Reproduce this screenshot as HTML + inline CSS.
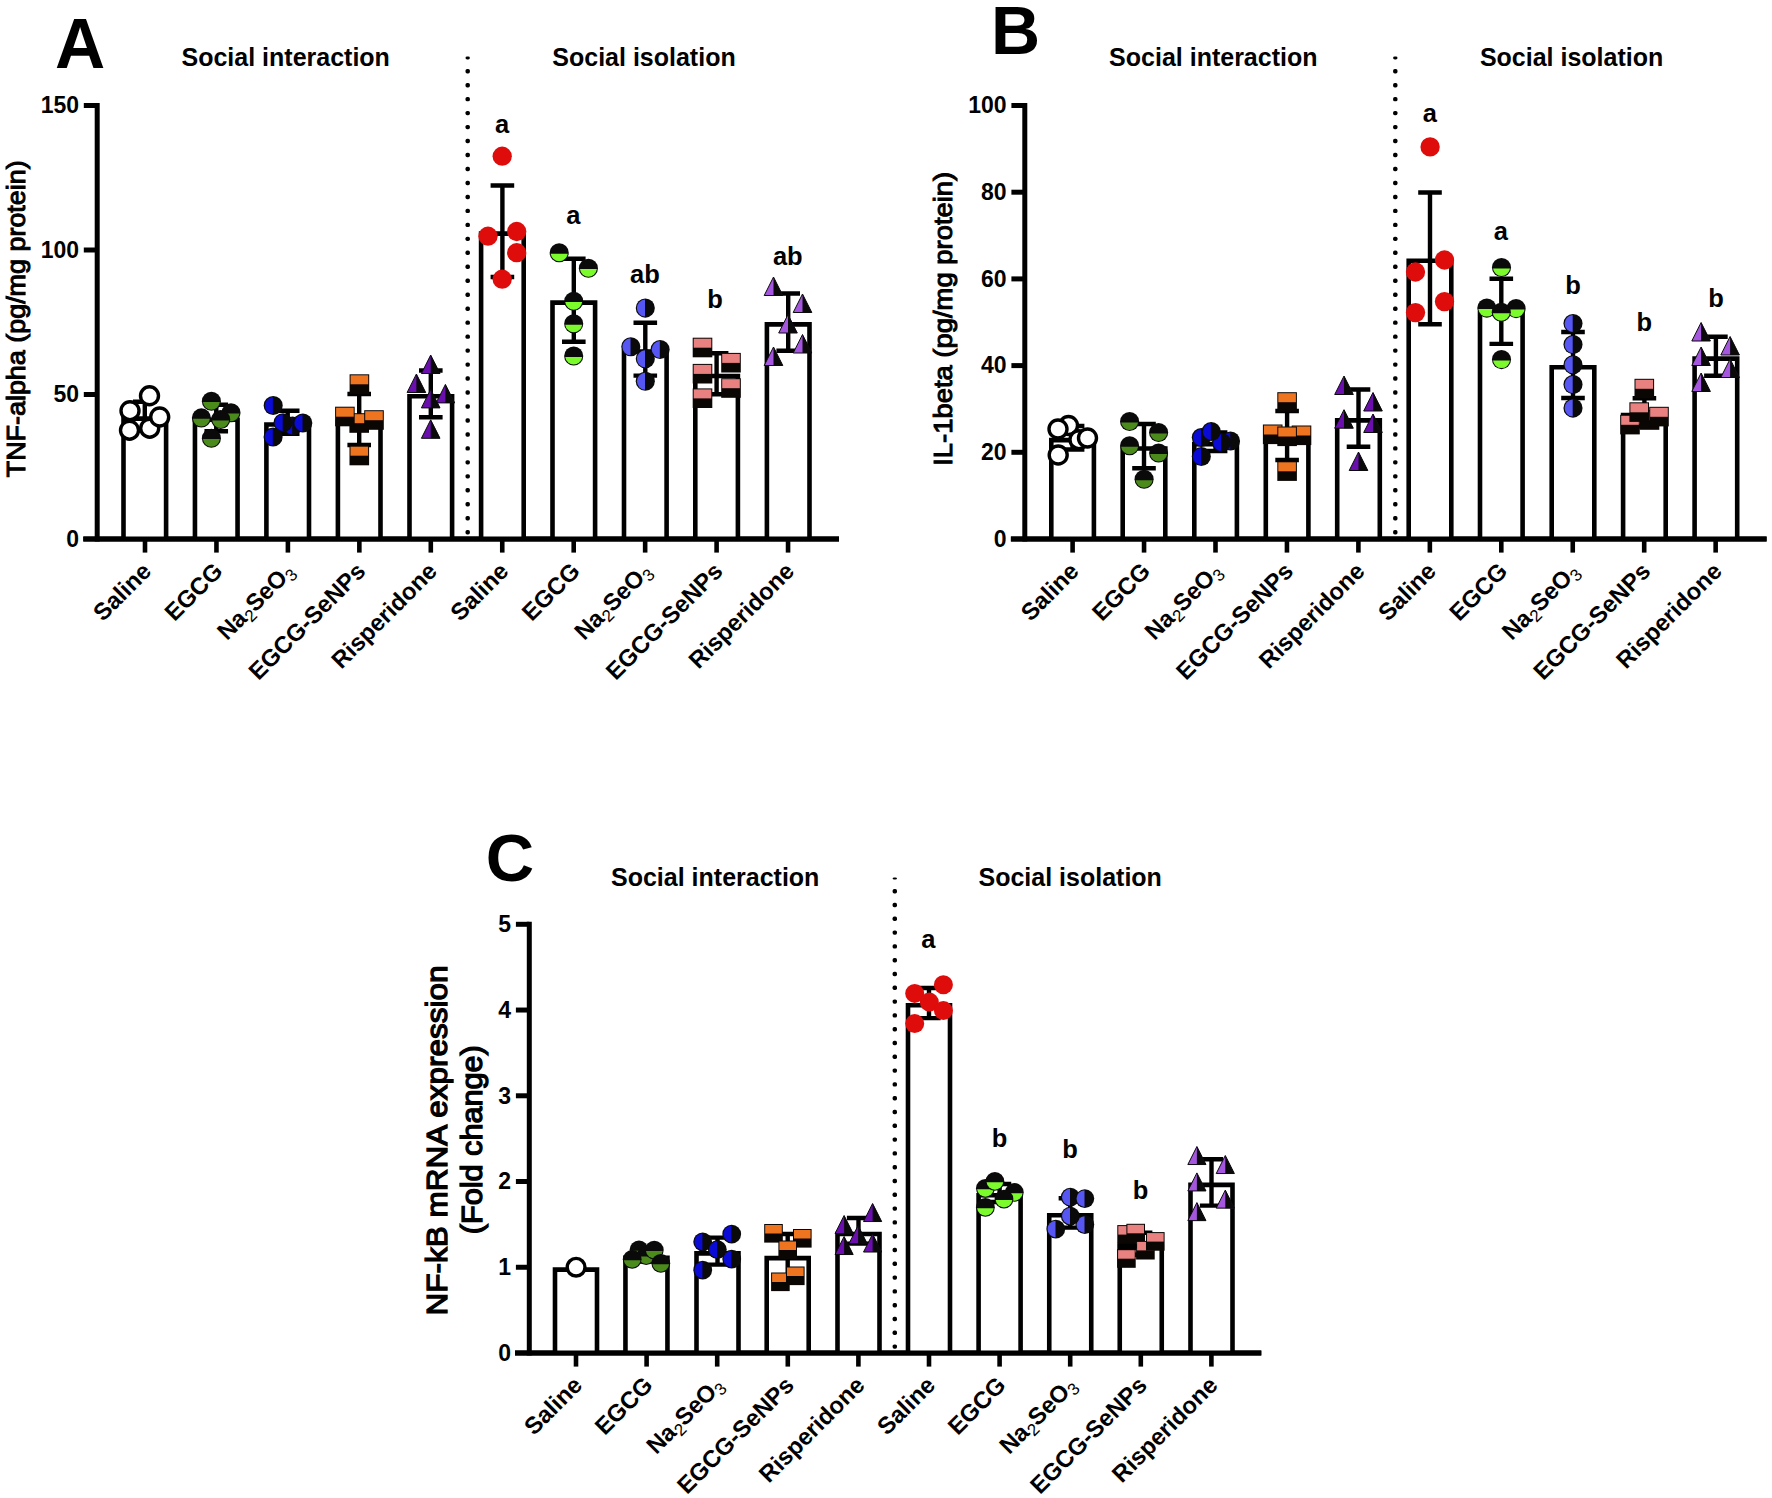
<!DOCTYPE html>
<html><head><meta charset="utf-8"><title>Figure</title>
<style>html,body{margin:0;padding:0;background:#fff}svg{display:block}</style></head><body>
<svg width="1772" height="1498" viewBox="0 0 1772 1498" font-family='"Liberation Sans", Arial, Helvetica, sans-serif' fill="#000">
<rect width="1772" height="1498" fill="#fff"/>
<g>
<path d="M83.3 539H839" stroke="#000" stroke-width="4.8" fill="none"/>
<path d="M97.2 103V541.4" stroke="#000" stroke-width="5" fill="none"/>
<text x="79" y="546.8" font-size="23" font-weight="bold" text-anchor="end" >0</text>
<path d="M83.8 394.5H97.2" stroke="#000" stroke-width="5" fill="none"/>
<text x="79" y="402.3" font-size="23" font-weight="bold" text-anchor="end" >50</text>
<path d="M83.8 250H97.2" stroke="#000" stroke-width="5" fill="none"/>
<text x="79" y="257.8" font-size="23" font-weight="bold" text-anchor="end" >100</text>
<path d="M83.8 105.5H97.2" stroke="#000" stroke-width="5" fill="none"/>
<text x="79" y="113.3" font-size="23" font-weight="bold" text-anchor="end" >150</text>
<path d="M145 539V552.6" stroke="#000" stroke-width="4.6" fill="none"/>
<text transform="translate(152.6 572.7) rotate(-45)" font-size="23.8" font-weight="bold" text-anchor="end">Saline</text>
<path d="M216.45 539V552.6" stroke="#000" stroke-width="4.6" fill="none"/>
<text transform="translate(224.05 572.7) rotate(-45)" font-size="23.8" font-weight="bold" text-anchor="end">EGCG</text>
<path d="M287.9 539V552.6" stroke="#000" stroke-width="4.6" fill="none"/>
<text transform="translate(295.5 572.7) rotate(-45)" font-size="23.8" font-weight="bold" text-anchor="end">Na<tspan font-size="17" font-weight="normal" dy="4.5">2</tspan><tspan dy="-4.5">SeO</tspan><tspan font-size="17" font-weight="normal" dy="4.5">3</tspan></text>
<path d="M359.35 539V552.6" stroke="#000" stroke-width="4.6" fill="none"/>
<text transform="translate(366.95 572.7) rotate(-45)" font-size="23.8" font-weight="bold" text-anchor="end">EGCG-SeNPs</text>
<path d="M430.8 539V552.6" stroke="#000" stroke-width="4.6" fill="none"/>
<text transform="translate(438.4 572.7) rotate(-45)" font-size="23.8" font-weight="bold" text-anchor="end">Risperidone</text>
<path d="M502.25 539V552.6" stroke="#000" stroke-width="4.6" fill="none"/>
<text transform="translate(509.85 572.7) rotate(-45)" font-size="23.8" font-weight="bold" text-anchor="end">Saline</text>
<path d="M573.7 539V552.6" stroke="#000" stroke-width="4.6" fill="none"/>
<text transform="translate(581.3 572.7) rotate(-45)" font-size="23.8" font-weight="bold" text-anchor="end">EGCG</text>
<path d="M645.15 539V552.6" stroke="#000" stroke-width="4.6" fill="none"/>
<text transform="translate(652.75 572.7) rotate(-45)" font-size="23.8" font-weight="bold" text-anchor="end">Na<tspan font-size="17" font-weight="normal" dy="4.5">2</tspan><tspan dy="-4.5">SeO</tspan><tspan font-size="17" font-weight="normal" dy="4.5">3</tspan></text>
<path d="M716.6 539V552.6" stroke="#000" stroke-width="4.6" fill="none"/>
<text transform="translate(724.2 572.7) rotate(-45)" font-size="23.8" font-weight="bold" text-anchor="end">EGCG-SeNPs</text>
<path d="M788.05 539V552.6" stroke="#000" stroke-width="4.6" fill="none"/>
<text transform="translate(795.65 572.7) rotate(-45)" font-size="23.8" font-weight="bold" text-anchor="end">Risperidone</text>
<rect x="465.5" y="56.5" width="4.4" height="2.94" rx="1.7" fill="#000"/>
<rect x="465.5" y="69.01" width="4.4" height="4.4" rx="1.7" fill="#000"/>
<rect x="465.5" y="82.98" width="4.4" height="4.4" rx="1.7" fill="#000"/>
<rect x="465.5" y="96.95" width="4.4" height="4.4" rx="1.7" fill="#000"/>
<rect x="465.5" y="110.92" width="4.4" height="4.4" rx="1.7" fill="#000"/>
<rect x="465.5" y="124.89" width="4.4" height="4.4" rx="1.7" fill="#000"/>
<rect x="465.5" y="138.86" width="4.4" height="4.4" rx="1.7" fill="#000"/>
<rect x="465.5" y="152.83" width="4.4" height="4.4" rx="1.7" fill="#000"/>
<rect x="465.5" y="166.8" width="4.4" height="4.4" rx="1.7" fill="#000"/>
<rect x="465.5" y="180.77" width="4.4" height="4.4" rx="1.7" fill="#000"/>
<rect x="465.5" y="194.74" width="4.4" height="4.4" rx="1.7" fill="#000"/>
<rect x="465.5" y="208.71" width="4.4" height="4.4" rx="1.7" fill="#000"/>
<rect x="465.5" y="222.68" width="4.4" height="4.4" rx="1.7" fill="#000"/>
<rect x="465.5" y="236.65" width="4.4" height="4.4" rx="1.7" fill="#000"/>
<rect x="465.5" y="250.62" width="4.4" height="4.4" rx="1.7" fill="#000"/>
<rect x="465.5" y="264.59" width="4.4" height="4.4" rx="1.7" fill="#000"/>
<rect x="465.5" y="278.56" width="4.4" height="4.4" rx="1.7" fill="#000"/>
<rect x="465.5" y="292.53" width="4.4" height="4.4" rx="1.7" fill="#000"/>
<rect x="465.5" y="306.5" width="4.4" height="4.4" rx="1.7" fill="#000"/>
<rect x="465.5" y="320.47" width="4.4" height="4.4" rx="1.7" fill="#000"/>
<rect x="465.5" y="334.44" width="4.4" height="4.4" rx="1.7" fill="#000"/>
<rect x="465.5" y="348.41" width="4.4" height="4.4" rx="1.7" fill="#000"/>
<rect x="465.5" y="362.38" width="4.4" height="4.4" rx="1.7" fill="#000"/>
<rect x="465.5" y="376.35" width="4.4" height="4.4" rx="1.7" fill="#000"/>
<rect x="465.5" y="390.32" width="4.4" height="4.4" rx="1.7" fill="#000"/>
<rect x="465.5" y="404.29" width="4.4" height="4.4" rx="1.7" fill="#000"/>
<rect x="465.5" y="418.26" width="4.4" height="4.4" rx="1.7" fill="#000"/>
<rect x="465.5" y="432.23" width="4.4" height="4.4" rx="1.7" fill="#000"/>
<rect x="465.5" y="446.2" width="4.4" height="4.4" rx="1.7" fill="#000"/>
<rect x="465.5" y="460.17" width="4.4" height="4.4" rx="1.7" fill="#000"/>
<rect x="465.5" y="474.14" width="4.4" height="4.4" rx="1.7" fill="#000"/>
<rect x="465.5" y="488.11" width="4.4" height="4.4" rx="1.7" fill="#000"/>
<rect x="465.5" y="502.08" width="4.4" height="4.4" rx="1.7" fill="#000"/>
<rect x="465.5" y="516.05" width="4.4" height="4.4" rx="1.7" fill="#000"/>
<rect x="465.5" y="530.02" width="4.4" height="4.4" rx="1.7" fill="#000"/>
<path d="M123.5 539V418.6H166.1V539" fill="#fff" stroke="#000" stroke-width="4.6" stroke-linejoin="miter"/>
<path d="M194.95 539V419.8H237.55V539" fill="#fff" stroke="#000" stroke-width="4.6" stroke-linejoin="miter"/>
<path d="M266.4 539V424.5H309V539" fill="#fff" stroke="#000" stroke-width="4.6" stroke-linejoin="miter"/>
<path d="M337.9 539V421.8H380.5V539" fill="#fff" stroke="#000" stroke-width="4.6" stroke-linejoin="miter"/>
<path d="M409.5 539V396.3H452.1V539" fill="#fff" stroke="#000" stroke-width="4.6" stroke-linejoin="miter"/>
<path d="M481.1 539V233.6H523.7V539" fill="#fff" stroke="#000" stroke-width="4.6" stroke-linejoin="miter"/>
<path d="M552.5 539V302.6H595.1V539" fill="#fff" stroke="#000" stroke-width="4.6" stroke-linejoin="miter"/>
<path d="M624 539V351.5H666.6V539" fill="#fff" stroke="#000" stroke-width="4.6" stroke-linejoin="miter"/>
<path d="M695.3 539V376H737.9V539" fill="#fff" stroke="#000" stroke-width="4.6" stroke-linejoin="miter"/>
<path d="M766.9 539V324.4H809.5V539" fill="#fff" stroke="#000" stroke-width="4.6" stroke-linejoin="miter"/>
<path d="M83.3 539H839" stroke="#000" stroke-width="4.8" fill="none"/>
<path d="M144.8 401.8V430.3M133 401.8H156.6M133 430.3H156.6" fill="none" stroke="#000" stroke-width="4.4"/>
<path d="M216.25 404.8V431.2M204.45 404.8H228.05M204.45 431.2H228.05" fill="none" stroke="#000" stroke-width="4.4"/>
<path d="M287.7 410.7V433.7M275.9 410.7H299.5M275.9 433.7H299.5" fill="none" stroke="#000" stroke-width="4.4"/>
<path d="M359.2 394V445M347.4 394H371M347.4 445H371" fill="none" stroke="#000" stroke-width="4.4"/>
<path d="M430.8 370.5V417.3M419 370.5H442.6M419 417.3H442.6" fill="none" stroke="#000" stroke-width="4.4"/>
<path d="M502.4 185.5V277M490.6 185.5H514.2M490.6 277H514.2" fill="none" stroke="#000" stroke-width="4.4"/>
<path d="M573.8 258.8V341.8M562 258.8H585.6M562 341.8H585.6" fill="none" stroke="#000" stroke-width="4.4"/>
<path d="M645.3 322.7V375.6M633.5 322.7H657.1M633.5 375.6H657.1" fill="none" stroke="#000" stroke-width="4.4"/>
<path d="M716.6 353.3V394.2M704.8 353.3H728.4M704.8 394.2H728.4" fill="none" stroke="#000" stroke-width="4.4"/>
<path d="M788.2 293.5V350.8M776.4 293.5H800M776.4 350.8H800" fill="none" stroke="#000" stroke-width="4.4"/>
<circle cx="129.5" cy="430.2" r="9" fill="#fff" stroke="#000" stroke-width="3.4"/>
<circle cx="149.7" cy="428.2" r="9" fill="#fff" stroke="#000" stroke-width="3.4"/>
<circle cx="130" cy="410.7" r="9" fill="#fff" stroke="#000" stroke-width="3.4"/>
<circle cx="159.7" cy="417" r="9" fill="#fff" stroke="#000" stroke-width="3.4"/>
<circle cx="149.5" cy="395.8" r="9" fill="#fff" stroke="#000" stroke-width="3.4"/>
<circle cx="231" cy="412.7" r="9.55" fill="#0a0a0a"/><path d="M222.55 413.6A8.5 8.5 0 0 0 239.45 413.6Z" fill="#4b8b1b"/>
<circle cx="220.7" cy="419.5" r="9.55" fill="#0a0a0a"/><path d="M212.25 420.4A8.5 8.5 0 0 0 229.15 420.4Z" fill="#4b8b1b"/>
<circle cx="201.4" cy="417.9" r="9.55" fill="#0a0a0a"/><path d="M192.95 418.8A8.5 8.5 0 0 0 209.85 418.8Z" fill="#4b8b1b"/>
<circle cx="211.4" cy="401.2" r="9.55" fill="#0a0a0a"/><path d="M202.95 402.1A8.5 8.5 0 0 0 219.85 402.1Z" fill="#4b8b1b"/>
<circle cx="211.4" cy="438.2" r="9.55" fill="#0a0a0a"/><path d="M202.95 439.1A8.5 8.5 0 0 0 219.85 439.1Z" fill="#4b8b1b"/>
<circle cx="292.5" cy="426" r="9.55" fill="#0a0a0a"/><path d="M292.2 417.51A8.5 8.5 0 0 0 292.2 434.49Z" fill="#0b0bd6"/>
<circle cx="302.8" cy="423" r="9.55" fill="#0a0a0a"/><path d="M302.5 414.51A8.5 8.5 0 0 0 302.5 431.49Z" fill="#0b0bd6"/>
<circle cx="283" cy="422.7" r="9.55" fill="#0a0a0a"/><path d="M282.7 414.21A8.5 8.5 0 0 0 282.7 431.19Z" fill="#0b0bd6"/>
<circle cx="273.1" cy="437" r="9.55" fill="#0a0a0a"/><path d="M272.8 428.51A8.5 8.5 0 0 0 272.8 445.49Z" fill="#0b0bd6"/>
<circle cx="273.2" cy="405.5" r="9.55" fill="#0a0a0a"/><path d="M272.9 397.01A8.5 8.5 0 0 0 272.9 413.99Z" fill="#0b0bd6"/>
<rect x="349.4" y="413.2" width="19.6" height="19.6" fill="#0a0604"/><rect x="350.4" y="414.2" width="17.6" height="9" fill="#ee7420"/>
<rect x="335.1" y="406.7" width="19.6" height="19.6" fill="#0a0604"/><rect x="336.1" y="407.7" width="17.6" height="9" fill="#ee7420"/>
<rect x="364.2" y="410.2" width="19.6" height="19.6" fill="#0a0604"/><rect x="365.2" y="411.2" width="17.6" height="9" fill="#ee7420"/>
<rect x="349.6" y="374.3" width="19.6" height="19.6" fill="#0a0604"/><rect x="350.6" y="375.3" width="17.6" height="9" fill="#ee7420"/>
<rect x="349.5" y="445.7" width="19.6" height="19.6" fill="#0a0604"/><rect x="350.5" y="446.7" width="17.6" height="9" fill="#ee7420"/>
<path d="M430.7 355L421.4 373.5H440Z" fill="#6a0fae"/><path d="M430.7 355V373.5H440Z" fill="#0a0a0a"/><path d="M430.7 355L421.4 373.5H440Z" fill="none" stroke="#0a0a0a" stroke-width="1" stroke-linejoin="miter"/>
<path d="M416.4 374L407.1 392.5H425.7Z" fill="#6a0fae"/><path d="M416.4 374V392.5H425.7Z" fill="#0a0a0a"/><path d="M416.4 374L407.1 392.5H425.7Z" fill="none" stroke="#0a0a0a" stroke-width="1" stroke-linejoin="miter"/>
<path d="M445.4 384.4L436.1 402.9H454.7Z" fill="#6a0fae"/><path d="M445.4 384.4V402.9H454.7Z" fill="#0a0a0a"/><path d="M445.4 384.4L436.1 402.9H454.7Z" fill="none" stroke="#0a0a0a" stroke-width="1" stroke-linejoin="miter"/>
<path d="M430.7 389.4L421.4 407.9H440Z" fill="#6a0fae"/><path d="M430.7 389.4V407.9H440Z" fill="#0a0a0a"/><path d="M430.7 389.4L421.4 407.9H440Z" fill="none" stroke="#0a0a0a" stroke-width="1" stroke-linejoin="miter"/>
<path d="M430.7 419.8L421.4 438.3H440Z" fill="#6a0fae"/><path d="M430.7 419.8V438.3H440Z" fill="#0a0a0a"/><path d="M430.7 419.8L421.4 438.3H440Z" fill="none" stroke="#0a0a0a" stroke-width="1" stroke-linejoin="miter"/>
<circle cx="502.2" cy="156.2" r="9.65" fill="#df0c0c"/>
<circle cx="488" cy="236.2" r="9.65" fill="#df0c0c"/>
<circle cx="516.7" cy="231.5" r="9.65" fill="#df0c0c"/>
<circle cx="516.7" cy="252.7" r="9.65" fill="#df0c0c"/>
<circle cx="502.2" cy="279.2" r="9.65" fill="#df0c0c"/>
<circle cx="559.2" cy="252.8" r="9.55" fill="#0a0a0a"/><path d="M550.75 253.7A8.5 8.5 0 0 0 567.65 253.7Z" fill="#7cfb2c"/>
<circle cx="588.4" cy="268.2" r="9.55" fill="#0a0a0a"/><path d="M579.95 269.1A8.5 8.5 0 0 0 596.85 269.1Z" fill="#7cfb2c"/>
<circle cx="573.7" cy="301.2" r="9.55" fill="#0a0a0a"/><path d="M565.25 302.1A8.5 8.5 0 0 0 582.15 302.1Z" fill="#7cfb2c"/>
<circle cx="573.7" cy="323.8" r="9.55" fill="#0a0a0a"/><path d="M565.25 324.7A8.5 8.5 0 0 0 582.15 324.7Z" fill="#7cfb2c"/>
<circle cx="573.7" cy="356" r="9.55" fill="#0a0a0a"/><path d="M565.25 356.9A8.5 8.5 0 0 0 582.15 356.9Z" fill="#7cfb2c"/>
<circle cx="645.3" cy="381.3" r="9.55" fill="#0a0a0a"/><path d="M645 372.81A8.5 8.5 0 0 0 645 389.79Z" fill="#5656f2"/>
<circle cx="630.8" cy="346.8" r="9.55" fill="#0a0a0a"/><path d="M630.5 338.31A8.5 8.5 0 0 0 630.5 355.29Z" fill="#5656f2"/>
<circle cx="660.1" cy="349.5" r="9.55" fill="#0a0a0a"/><path d="M659.8 341.01A8.5 8.5 0 0 0 659.8 357.99Z" fill="#5656f2"/>
<circle cx="645.3" cy="358.8" r="9.55" fill="#0a0a0a"/><path d="M645 350.31A8.5 8.5 0 0 0 645 367.29Z" fill="#5656f2"/>
<circle cx="645.3" cy="308.1" r="9.55" fill="#0a0a0a"/><path d="M645 299.61A8.5 8.5 0 0 0 645 316.59Z" fill="#5656f2"/>
<rect x="692.7" y="337.7" width="19.6" height="19.6" fill="#0a0604"/><rect x="693.7" y="338.7" width="17.6" height="9" fill="#e98180"/>
<rect x="721.2" y="352.9" width="19.6" height="19.6" fill="#0a0604"/><rect x="722.2" y="353.9" width="17.6" height="9" fill="#e98180"/>
<rect x="692.7" y="363.9" width="19.6" height="19.6" fill="#0a0604"/><rect x="693.7" y="364.9" width="17.6" height="9" fill="#e98180"/>
<rect x="721.2" y="378.2" width="19.6" height="19.6" fill="#0a0604"/><rect x="722.2" y="379.2" width="17.6" height="9" fill="#e98180"/>
<rect x="692.7" y="388.4" width="19.6" height="19.6" fill="#0a0604"/><rect x="693.7" y="389.4" width="17.6" height="9" fill="#e98180"/>
<path d="M773.5 277L764.2 295.5H782.8Z" fill="#a556df"/><path d="M773.5 277V295.5H782.8Z" fill="#0a0a0a"/><path d="M773.5 277L764.2 295.5H782.8Z" fill="none" stroke="#0a0a0a" stroke-width="1" stroke-linejoin="miter"/>
<path d="M802.5 294L793.2 312.5H811.8Z" fill="#a556df"/><path d="M802.5 294V312.5H811.8Z" fill="#0a0a0a"/><path d="M802.5 294L793.2 312.5H811.8Z" fill="none" stroke="#0a0a0a" stroke-width="1" stroke-linejoin="miter"/>
<path d="M788 314.5L778.7 333H797.3Z" fill="#a556df"/><path d="M788 314.5V333H797.3Z" fill="#0a0a0a"/><path d="M788 314.5L778.7 333H797.3Z" fill="none" stroke="#0a0a0a" stroke-width="1" stroke-linejoin="miter"/>
<path d="M802.5 334.5L793.2 353H811.8Z" fill="#a556df"/><path d="M802.5 334.5V353H811.8Z" fill="#0a0a0a"/><path d="M802.5 334.5L793.2 353H811.8Z" fill="none" stroke="#0a0a0a" stroke-width="1" stroke-linejoin="miter"/>
<path d="M773.5 347L764.2 365.5H782.8Z" fill="#a556df"/><path d="M773.5 347V365.5H782.8Z" fill="#0a0a0a"/><path d="M773.5 347L764.2 365.5H782.8Z" fill="none" stroke="#0a0a0a" stroke-width="1" stroke-linejoin="miter"/>
<text x="502" y="132.5" font-size="25.5" font-weight="bold" text-anchor="middle" >a</text>
<text x="573.3" y="224" font-size="25.5" font-weight="bold" text-anchor="middle" >a</text>
<text x="645" y="282.5" font-size="25.5" font-weight="bold" text-anchor="middle" >ab</text>
<text x="715" y="307.5" font-size="25.5" font-weight="bold" text-anchor="middle" >b</text>
<text x="787.8" y="265" font-size="25.5" font-weight="bold" text-anchor="middle" >ab</text>
<text x="181.5" y="66.2" font-size="25" font-weight="bold" text-anchor="start" >Social interaction</text>
<text x="552.3" y="66.2" font-size="25" font-weight="bold" text-anchor="start" >Social isolation</text>
<text x="54.9" y="67.9" font-size="69.5" font-weight="bold" text-anchor="start" >A</text>
<text transform="translate(24.6 318.8) rotate(-90)" font-size="26" font-weight="normal" text-anchor="middle" textLength="317" lengthAdjust="spacingAndGlyphs" stroke="#000" stroke-width="1.0">TNF-alpha (pg/mg protein)</text>
</g>
<g>
<path d="M1010.9 539H1766.6" stroke="#000" stroke-width="4.8" fill="none"/>
<path d="M1024.8 103V541.4" stroke="#000" stroke-width="5" fill="none"/>
<text x="1006.6" y="546.8" font-size="23" font-weight="bold" text-anchor="end" >0</text>
<path d="M1011.4 452.3H1024.8" stroke="#000" stroke-width="5" fill="none"/>
<text x="1006.6" y="460.1" font-size="23" font-weight="bold" text-anchor="end" >20</text>
<path d="M1011.4 365.6H1024.8" stroke="#000" stroke-width="5" fill="none"/>
<text x="1006.6" y="373.4" font-size="23" font-weight="bold" text-anchor="end" >40</text>
<path d="M1011.4 278.9H1024.8" stroke="#000" stroke-width="5" fill="none"/>
<text x="1006.6" y="286.7" font-size="23" font-weight="bold" text-anchor="end" >60</text>
<path d="M1011.4 192.2H1024.8" stroke="#000" stroke-width="5" fill="none"/>
<text x="1006.6" y="200" font-size="23" font-weight="bold" text-anchor="end" >80</text>
<path d="M1011.4 105.5H1024.8" stroke="#000" stroke-width="5" fill="none"/>
<text x="1006.6" y="113.3" font-size="23" font-weight="bold" text-anchor="end" >100</text>
<path d="M1072.6 539V552.6" stroke="#000" stroke-width="4.6" fill="none"/>
<text transform="translate(1080.2 572.7) rotate(-45)" font-size="23.8" font-weight="bold" text-anchor="end">Saline</text>
<path d="M1144.05 539V552.6" stroke="#000" stroke-width="4.6" fill="none"/>
<text transform="translate(1151.65 572.7) rotate(-45)" font-size="23.8" font-weight="bold" text-anchor="end">EGCG</text>
<path d="M1215.5 539V552.6" stroke="#000" stroke-width="4.6" fill="none"/>
<text transform="translate(1223.1 572.7) rotate(-45)" font-size="23.8" font-weight="bold" text-anchor="end">Na<tspan font-size="17" font-weight="normal" dy="4.5">2</tspan><tspan dy="-4.5">SeO</tspan><tspan font-size="17" font-weight="normal" dy="4.5">3</tspan></text>
<path d="M1286.95 539V552.6" stroke="#000" stroke-width="4.6" fill="none"/>
<text transform="translate(1294.55 572.7) rotate(-45)" font-size="23.8" font-weight="bold" text-anchor="end">EGCG-SeNPs</text>
<path d="M1358.4 539V552.6" stroke="#000" stroke-width="4.6" fill="none"/>
<text transform="translate(1366 572.7) rotate(-45)" font-size="23.8" font-weight="bold" text-anchor="end">Risperidone</text>
<path d="M1429.85 539V552.6" stroke="#000" stroke-width="4.6" fill="none"/>
<text transform="translate(1437.45 572.7) rotate(-45)" font-size="23.8" font-weight="bold" text-anchor="end">Saline</text>
<path d="M1501.3 539V552.6" stroke="#000" stroke-width="4.6" fill="none"/>
<text transform="translate(1508.9 572.7) rotate(-45)" font-size="23.8" font-weight="bold" text-anchor="end">EGCG</text>
<path d="M1572.75 539V552.6" stroke="#000" stroke-width="4.6" fill="none"/>
<text transform="translate(1580.35 572.7) rotate(-45)" font-size="23.8" font-weight="bold" text-anchor="end">Na<tspan font-size="17" font-weight="normal" dy="4.5">2</tspan><tspan dy="-4.5">SeO</tspan><tspan font-size="17" font-weight="normal" dy="4.5">3</tspan></text>
<path d="M1644.2 539V552.6" stroke="#000" stroke-width="4.6" fill="none"/>
<text transform="translate(1651.8 572.7) rotate(-45)" font-size="23.8" font-weight="bold" text-anchor="end">EGCG-SeNPs</text>
<path d="M1715.65 539V552.6" stroke="#000" stroke-width="4.6" fill="none"/>
<text transform="translate(1723.25 572.7) rotate(-45)" font-size="23.8" font-weight="bold" text-anchor="end">Risperidone</text>
<rect x="1393.1" y="56.5" width="4.4" height="2.94" rx="1.7" fill="#000"/>
<rect x="1393.1" y="69.01" width="4.4" height="4.4" rx="1.7" fill="#000"/>
<rect x="1393.1" y="82.98" width="4.4" height="4.4" rx="1.7" fill="#000"/>
<rect x="1393.1" y="96.95" width="4.4" height="4.4" rx="1.7" fill="#000"/>
<rect x="1393.1" y="110.92" width="4.4" height="4.4" rx="1.7" fill="#000"/>
<rect x="1393.1" y="124.89" width="4.4" height="4.4" rx="1.7" fill="#000"/>
<rect x="1393.1" y="138.86" width="4.4" height="4.4" rx="1.7" fill="#000"/>
<rect x="1393.1" y="152.83" width="4.4" height="4.4" rx="1.7" fill="#000"/>
<rect x="1393.1" y="166.8" width="4.4" height="4.4" rx="1.7" fill="#000"/>
<rect x="1393.1" y="180.77" width="4.4" height="4.4" rx="1.7" fill="#000"/>
<rect x="1393.1" y="194.74" width="4.4" height="4.4" rx="1.7" fill="#000"/>
<rect x="1393.1" y="208.71" width="4.4" height="4.4" rx="1.7" fill="#000"/>
<rect x="1393.1" y="222.68" width="4.4" height="4.4" rx="1.7" fill="#000"/>
<rect x="1393.1" y="236.65" width="4.4" height="4.4" rx="1.7" fill="#000"/>
<rect x="1393.1" y="250.62" width="4.4" height="4.4" rx="1.7" fill="#000"/>
<rect x="1393.1" y="264.59" width="4.4" height="4.4" rx="1.7" fill="#000"/>
<rect x="1393.1" y="278.56" width="4.4" height="4.4" rx="1.7" fill="#000"/>
<rect x="1393.1" y="292.53" width="4.4" height="4.4" rx="1.7" fill="#000"/>
<rect x="1393.1" y="306.5" width="4.4" height="4.4" rx="1.7" fill="#000"/>
<rect x="1393.1" y="320.47" width="4.4" height="4.4" rx="1.7" fill="#000"/>
<rect x="1393.1" y="334.44" width="4.4" height="4.4" rx="1.7" fill="#000"/>
<rect x="1393.1" y="348.41" width="4.4" height="4.4" rx="1.7" fill="#000"/>
<rect x="1393.1" y="362.38" width="4.4" height="4.4" rx="1.7" fill="#000"/>
<rect x="1393.1" y="376.35" width="4.4" height="4.4" rx="1.7" fill="#000"/>
<rect x="1393.1" y="390.32" width="4.4" height="4.4" rx="1.7" fill="#000"/>
<rect x="1393.1" y="404.29" width="4.4" height="4.4" rx="1.7" fill="#000"/>
<rect x="1393.1" y="418.26" width="4.4" height="4.4" rx="1.7" fill="#000"/>
<rect x="1393.1" y="432.23" width="4.4" height="4.4" rx="1.7" fill="#000"/>
<rect x="1393.1" y="446.2" width="4.4" height="4.4" rx="1.7" fill="#000"/>
<rect x="1393.1" y="460.17" width="4.4" height="4.4" rx="1.7" fill="#000"/>
<rect x="1393.1" y="474.14" width="4.4" height="4.4" rx="1.7" fill="#000"/>
<rect x="1393.1" y="488.11" width="4.4" height="4.4" rx="1.7" fill="#000"/>
<rect x="1393.1" y="502.08" width="4.4" height="4.4" rx="1.7" fill="#000"/>
<rect x="1393.1" y="516.05" width="4.4" height="4.4" rx="1.7" fill="#000"/>
<rect x="1393.1" y="530.02" width="4.4" height="4.4" rx="1.7" fill="#000"/>
<path d="M1051.3 539V440.1H1093.9V539" fill="#fff" stroke="#000" stroke-width="4.6" stroke-linejoin="miter"/>
<path d="M1122.7 539V448.5H1165.3V539" fill="#fff" stroke="#000" stroke-width="4.6" stroke-linejoin="miter"/>
<path d="M1194.3 539V444.1H1236.9V539" fill="#fff" stroke="#000" stroke-width="4.6" stroke-linejoin="miter"/>
<path d="M1265.8 539V437.8H1308.4V539" fill="#fff" stroke="#000" stroke-width="4.6" stroke-linejoin="miter"/>
<path d="M1337.2 539V420.4H1379.8V539" fill="#fff" stroke="#000" stroke-width="4.6" stroke-linejoin="miter"/>
<path d="M1408.7 539V260.7H1451.3V539" fill="#fff" stroke="#000" stroke-width="4.6" stroke-linejoin="miter"/>
<path d="M1480 539V313.6H1522.6V539" fill="#fff" stroke="#000" stroke-width="4.6" stroke-linejoin="miter"/>
<path d="M1551.7 539V367.3H1594.3V539" fill="#fff" stroke="#000" stroke-width="4.6" stroke-linejoin="miter"/>
<path d="M1623.1 539V415.1H1665.7V539" fill="#fff" stroke="#000" stroke-width="4.6" stroke-linejoin="miter"/>
<path d="M1694.6 539V358.6H1737.2V539" fill="#fff" stroke="#000" stroke-width="4.6" stroke-linejoin="miter"/>
<path d="M1010.9 539H1766.6" stroke="#000" stroke-width="4.8" fill="none"/>
<path d="M1072.6 426V449.5M1060.8 426H1084.4M1060.8 449.5H1084.4" fill="none" stroke="#000" stroke-width="4.4"/>
<path d="M1144 424V468.3M1132.2 424H1155.8M1132.2 468.3H1155.8" fill="none" stroke="#000" stroke-width="4.4"/>
<path d="M1215.6 432.5V451M1203.8 432.5H1227.4M1203.8 451H1227.4" fill="none" stroke="#000" stroke-width="4.4"/>
<path d="M1287.1 411V460M1275.3 411H1298.9M1275.3 460H1298.9" fill="none" stroke="#000" stroke-width="4.4"/>
<path d="M1358.5 389.5V446.7M1346.7 389.5H1370.3M1346.7 446.7H1370.3" fill="none" stroke="#000" stroke-width="4.4"/>
<path d="M1430 192.5V324.3M1418.2 192.5H1441.8M1418.2 324.3H1441.8" fill="none" stroke="#000" stroke-width="4.4"/>
<path d="M1501.3 278.8V343.9M1489.5 278.8H1513.1M1489.5 343.9H1513.1" fill="none" stroke="#000" stroke-width="4.4"/>
<path d="M1573 332V398M1561.2 332H1584.8M1561.2 398H1584.8" fill="none" stroke="#000" stroke-width="4.4"/>
<path d="M1644.4 398.3V426.4M1632.6 398.3H1656.2M1632.6 426.4H1656.2" fill="none" stroke="#000" stroke-width="4.4"/>
<path d="M1715.9 336.8V375.8M1704.1 336.8H1727.7M1704.1 375.8H1727.7" fill="none" stroke="#000" stroke-width="4.4"/>
<circle cx="1068.5" cy="425.5" r="9" fill="#fff" stroke="#000" stroke-width="3.4"/>
<circle cx="1079" cy="439.7" r="9" fill="#fff" stroke="#000" stroke-width="3.4"/>
<circle cx="1058" cy="429" r="9" fill="#fff" stroke="#000" stroke-width="3.4"/>
<circle cx="1087.5" cy="438" r="9" fill="#fff" stroke="#000" stroke-width="3.4"/>
<circle cx="1058.2" cy="455" r="9" fill="#fff" stroke="#000" stroke-width="3.4"/>
<circle cx="1129.6" cy="421.5" r="9.55" fill="#0a0a0a"/><path d="M1121.15 422.4A8.5 8.5 0 0 0 1138.05 422.4Z" fill="#4b8b1b"/>
<circle cx="1158.6" cy="432.5" r="9.55" fill="#0a0a0a"/><path d="M1150.15 433.4A8.5 8.5 0 0 0 1167.05 433.4Z" fill="#4b8b1b"/>
<circle cx="1129.6" cy="445.8" r="9.55" fill="#0a0a0a"/><path d="M1121.15 446.7A8.5 8.5 0 0 0 1138.05 446.7Z" fill="#4b8b1b"/>
<circle cx="1158.6" cy="453" r="9.55" fill="#0a0a0a"/><path d="M1150.15 453.9A8.5 8.5 0 0 0 1167.05 453.9Z" fill="#4b8b1b"/>
<circle cx="1144.1" cy="479.3" r="9.55" fill="#0a0a0a"/><path d="M1135.65 480.2A8.5 8.5 0 0 0 1152.55 480.2Z" fill="#4b8b1b"/>
<circle cx="1230.5" cy="441" r="9.55" fill="#0a0a0a"/><path d="M1230.2 432.51A8.5 8.5 0 0 0 1230.2 449.49Z" fill="#0b0bd6"/>
<circle cx="1201.3" cy="437.5" r="9.55" fill="#0a0a0a"/><path d="M1201 429.01A8.5 8.5 0 0 0 1201 445.99Z" fill="#0b0bd6"/>
<circle cx="1201.3" cy="456.5" r="9.55" fill="#0a0a0a"/><path d="M1201 448.01A8.5 8.5 0 0 0 1201 464.99Z" fill="#0b0bd6"/>
<circle cx="1221.5" cy="442.5" r="9.55" fill="#0a0a0a"/><path d="M1221.2 434.01A8.5 8.5 0 0 0 1221.2 450.99Z" fill="#0b0bd6"/>
<circle cx="1211.2" cy="431.5" r="9.55" fill="#0a0a0a"/><path d="M1210.9 423.01A8.5 8.5 0 0 0 1210.9 439.99Z" fill="#0b0bd6"/>
<rect x="1262.9" y="424.5" width="19.6" height="19.6" fill="#0a0604"/><rect x="1263.9" y="425.5" width="17.6" height="9" fill="#ee7420"/>
<rect x="1291.7" y="425.5" width="19.6" height="19.6" fill="#0a0604"/><rect x="1292.7" y="426.5" width="17.6" height="9" fill="#ee7420"/>
<rect x="1277.3" y="426.5" width="19.6" height="19.6" fill="#0a0604"/><rect x="1278.3" y="427.5" width="17.6" height="9" fill="#ee7420"/>
<rect x="1277.3" y="392.2" width="19.6" height="19.6" fill="#0a0604"/><rect x="1278.3" y="393.2" width="17.6" height="9" fill="#ee7420"/>
<rect x="1277.3" y="461.3" width="19.6" height="19.6" fill="#0a0604"/><rect x="1278.3" y="462.3" width="17.6" height="9" fill="#ee7420"/>
<path d="M1344 376L1334.7 394.5H1353.3Z" fill="#6a0fae"/><path d="M1344 376V394.5H1353.3Z" fill="#0a0a0a"/><path d="M1344 376L1334.7 394.5H1353.3Z" fill="none" stroke="#0a0a0a" stroke-width="1" stroke-linejoin="miter"/>
<path d="M1373 392.5L1363.7 411H1382.3Z" fill="#6a0fae"/><path d="M1373 392.5V411H1382.3Z" fill="#0a0a0a"/><path d="M1373 392.5L1363.7 411H1382.3Z" fill="none" stroke="#0a0a0a" stroke-width="1" stroke-linejoin="miter"/>
<path d="M1344 409.7L1334.7 428.2H1353.3Z" fill="#6a0fae"/><path d="M1344 409.7V428.2H1353.3Z" fill="#0a0a0a"/><path d="M1344 409.7L1334.7 428.2H1353.3Z" fill="none" stroke="#0a0a0a" stroke-width="1" stroke-linejoin="miter"/>
<path d="M1373 414L1363.7 432.5H1382.3Z" fill="#6a0fae"/><path d="M1373 414V432.5H1382.3Z" fill="#0a0a0a"/><path d="M1373 414L1363.7 432.5H1382.3Z" fill="none" stroke="#0a0a0a" stroke-width="1" stroke-linejoin="miter"/>
<path d="M1358.5 452L1349.2 470.5H1367.8Z" fill="#6a0fae"/><path d="M1358.5 452V470.5H1367.8Z" fill="#0a0a0a"/><path d="M1358.5 452L1349.2 470.5H1367.8Z" fill="none" stroke="#0a0a0a" stroke-width="1" stroke-linejoin="miter"/>
<circle cx="1430.1" cy="146.9" r="9.65" fill="#df0c0c"/>
<circle cx="1444.5" cy="260" r="9.65" fill="#df0c0c"/>
<circle cx="1415.5" cy="272" r="9.65" fill="#df0c0c"/>
<circle cx="1444.5" cy="301.6" r="9.65" fill="#df0c0c"/>
<circle cx="1415.5" cy="312.6" r="9.65" fill="#df0c0c"/>
<circle cx="1501.5" cy="267.5" r="9.55" fill="#0a0a0a"/><path d="M1493.05 268.4A8.5 8.5 0 0 0 1509.95 268.4Z" fill="#7cfb2c"/>
<circle cx="1486.8" cy="308.1" r="9.55" fill="#0a0a0a"/><path d="M1478.35 309A8.5 8.5 0 0 0 1495.25 309Z" fill="#7cfb2c"/>
<circle cx="1516.1" cy="308.6" r="9.55" fill="#0a0a0a"/><path d="M1507.65 309.5A8.5 8.5 0 0 0 1524.55 309.5Z" fill="#7cfb2c"/>
<circle cx="1501.3" cy="312.3" r="9.55" fill="#0a0a0a"/><path d="M1492.85 313.2A8.5 8.5 0 0 0 1509.75 313.2Z" fill="#7cfb2c"/>
<circle cx="1501.5" cy="359.6" r="9.55" fill="#0a0a0a"/><path d="M1493.05 360.5A8.5 8.5 0 0 0 1509.95 360.5Z" fill="#7cfb2c"/>
<circle cx="1573" cy="323.5" r="9.55" fill="#0a0a0a"/><path d="M1572.7 315.01A8.5 8.5 0 0 0 1572.7 331.99Z" fill="#5656f2"/>
<circle cx="1573" cy="344.6" r="9.55" fill="#0a0a0a"/><path d="M1572.7 336.11A8.5 8.5 0 0 0 1572.7 353.09Z" fill="#5656f2"/>
<circle cx="1573" cy="364.8" r="9.55" fill="#0a0a0a"/><path d="M1572.7 356.31A8.5 8.5 0 0 0 1572.7 373.29Z" fill="#5656f2"/>
<circle cx="1573" cy="384.6" r="9.55" fill="#0a0a0a"/><path d="M1572.7 376.11A8.5 8.5 0 0 0 1572.7 393.09Z" fill="#5656f2"/>
<circle cx="1573" cy="408.1" r="9.55" fill="#0a0a0a"/><path d="M1572.7 399.61A8.5 8.5 0 0 0 1572.7 416.59Z" fill="#5656f2"/>
<rect x="1639.7" y="410.2" width="19.6" height="19.6" fill="#0a0604"/><rect x="1640.7" y="411.2" width="17.6" height="9" fill="#e98180"/>
<rect x="1620.2" y="414.8" width="19.6" height="19.6" fill="#0a0604"/><rect x="1621.2" y="415.8" width="17.6" height="9" fill="#e98180"/>
<rect x="1649.2" y="406.8" width="19.6" height="19.6" fill="#0a0604"/><rect x="1650.2" y="407.8" width="17.6" height="9" fill="#e98180"/>
<rect x="1629.4" y="402.3" width="19.6" height="19.6" fill="#0a0604"/><rect x="1630.4" y="403.3" width="17.6" height="9" fill="#e98180"/>
<rect x="1634.5" y="378.8" width="19.6" height="19.6" fill="#0a0604"/><rect x="1635.5" y="379.8" width="17.6" height="9" fill="#e98180"/>
<path d="M1701.1 322.5L1691.8 341H1710.4Z" fill="#a556df"/><path d="M1701.1 322.5V341H1710.4Z" fill="#0a0a0a"/><path d="M1701.1 322.5L1691.8 341H1710.4Z" fill="none" stroke="#0a0a0a" stroke-width="1" stroke-linejoin="miter"/>
<path d="M1730.1 336.5L1720.8 355H1739.4Z" fill="#a556df"/><path d="M1730.1 336.5V355H1739.4Z" fill="#0a0a0a"/><path d="M1730.1 336.5L1720.8 355H1739.4Z" fill="none" stroke="#0a0a0a" stroke-width="1" stroke-linejoin="miter"/>
<path d="M1701.1 347L1691.8 365.5H1710.4Z" fill="#a556df"/><path d="M1701.1 347V365.5H1710.4Z" fill="#0a0a0a"/><path d="M1701.1 347L1691.8 365.5H1710.4Z" fill="none" stroke="#0a0a0a" stroke-width="1" stroke-linejoin="miter"/>
<path d="M1730.1 359L1720.8 377.5H1739.4Z" fill="#a556df"/><path d="M1730.1 359V377.5H1739.4Z" fill="#0a0a0a"/><path d="M1730.1 359L1720.8 377.5H1739.4Z" fill="none" stroke="#0a0a0a" stroke-width="1" stroke-linejoin="miter"/>
<path d="M1701.1 373L1691.8 391.5H1710.4Z" fill="#a556df"/><path d="M1701.1 373V391.5H1710.4Z" fill="#0a0a0a"/><path d="M1701.1 373L1691.8 391.5H1710.4Z" fill="none" stroke="#0a0a0a" stroke-width="1" stroke-linejoin="miter"/>
<text x="1429.8" y="122" font-size="25.5" font-weight="bold" text-anchor="middle" >a</text>
<text x="1500.8" y="240" font-size="25.5" font-weight="bold" text-anchor="middle" >a</text>
<text x="1573" y="293.5" font-size="25.5" font-weight="bold" text-anchor="middle" >b</text>
<text x="1644.4" y="330.5" font-size="25.5" font-weight="bold" text-anchor="middle" >b</text>
<text x="1716" y="307" font-size="25.5" font-weight="bold" text-anchor="middle" >b</text>
<text x="1109.1" y="66.2" font-size="25" font-weight="bold" text-anchor="start" >Social interaction</text>
<text x="1479.9" y="66.2" font-size="25" font-weight="bold" text-anchor="start" >Social isolation</text>
<text x="990.9" y="54.2" font-size="68" font-weight="bold" text-anchor="start" >B</text>
<text transform="translate(952.2 318.8) rotate(-90)" font-size="26" font-weight="normal" text-anchor="middle" textLength="294" lengthAdjust="spacingAndGlyphs" stroke="#000" stroke-width="1.0">IL-1beta (pg/mg protein)</text>
</g>
<g>
<path d="M515 1353H1261.3" stroke="#000" stroke-width="4.8" fill="none"/>
<path d="M529.3 921.8V1355.4" stroke="#000" stroke-width="5" fill="none"/>
<text x="511.1" y="1360.8" font-size="23" font-weight="bold" text-anchor="end" >0</text>
<path d="M515.9 1267.26H529.3" stroke="#000" stroke-width="5" fill="none"/>
<text x="511.1" y="1275.06" font-size="23" font-weight="bold" text-anchor="end" >1</text>
<path d="M515.9 1181.52H529.3" stroke="#000" stroke-width="5" fill="none"/>
<text x="511.1" y="1189.32" font-size="23" font-weight="bold" text-anchor="end" >2</text>
<path d="M515.9 1095.78H529.3" stroke="#000" stroke-width="5" fill="none"/>
<text x="511.1" y="1103.58" font-size="23" font-weight="bold" text-anchor="end" >3</text>
<path d="M515.9 1010.04H529.3" stroke="#000" stroke-width="5" fill="none"/>
<text x="511.1" y="1017.84" font-size="23" font-weight="bold" text-anchor="end" >4</text>
<path d="M515.9 924.3H529.3" stroke="#000" stroke-width="5" fill="none"/>
<text x="511.1" y="932.1" font-size="23" font-weight="bold" text-anchor="end" >5</text>
<path d="M576 1353V1366.6" stroke="#000" stroke-width="4.6" fill="none"/>
<text transform="translate(583.6 1386.7) rotate(-45)" font-size="23.8" font-weight="bold" text-anchor="end">Saline</text>
<path d="M646.6 1353V1366.6" stroke="#000" stroke-width="4.6" fill="none"/>
<text transform="translate(654.2 1386.7) rotate(-45)" font-size="23.8" font-weight="bold" text-anchor="end">EGCG</text>
<path d="M717.2 1353V1366.6" stroke="#000" stroke-width="4.6" fill="none"/>
<text transform="translate(724.8 1386.7) rotate(-45)" font-size="23.8" font-weight="bold" text-anchor="end">Na<tspan font-size="17" font-weight="normal" dy="4.5">2</tspan><tspan dy="-4.5">SeO</tspan><tspan font-size="17" font-weight="normal" dy="4.5">3</tspan></text>
<path d="M787.8 1353V1366.6" stroke="#000" stroke-width="4.6" fill="none"/>
<text transform="translate(795.4 1386.7) rotate(-45)" font-size="23.8" font-weight="bold" text-anchor="end">EGCG-SeNPs</text>
<path d="M858.4 1353V1366.6" stroke="#000" stroke-width="4.6" fill="none"/>
<text transform="translate(866 1386.7) rotate(-45)" font-size="23.8" font-weight="bold" text-anchor="end">Risperidone</text>
<path d="M929 1353V1366.6" stroke="#000" stroke-width="4.6" fill="none"/>
<text transform="translate(936.6 1386.7) rotate(-45)" font-size="23.8" font-weight="bold" text-anchor="end">Saline</text>
<path d="M999.6 1353V1366.6" stroke="#000" stroke-width="4.6" fill="none"/>
<text transform="translate(1007.2 1386.7) rotate(-45)" font-size="23.8" font-weight="bold" text-anchor="end">EGCG</text>
<path d="M1070.2 1353V1366.6" stroke="#000" stroke-width="4.6" fill="none"/>
<text transform="translate(1077.8 1386.7) rotate(-45)" font-size="23.8" font-weight="bold" text-anchor="end">Na<tspan font-size="17" font-weight="normal" dy="4.5">2</tspan><tspan dy="-4.5">SeO</tspan><tspan font-size="17" font-weight="normal" dy="4.5">3</tspan></text>
<path d="M1140.8 1353V1366.6" stroke="#000" stroke-width="4.6" fill="none"/>
<text transform="translate(1148.4 1386.7) rotate(-45)" font-size="23.8" font-weight="bold" text-anchor="end">EGCG-SeNPs</text>
<path d="M1211.4 1353V1366.6" stroke="#000" stroke-width="4.6" fill="none"/>
<text transform="translate(1219 1386.7) rotate(-45)" font-size="23.8" font-weight="bold" text-anchor="end">Risperidone</text>
<rect x="892.6" y="877.5" width="4.4" height="2.1" rx="1.7" fill="#000"/>
<rect x="892.6" y="889" width="4.4" height="4.4" rx="1.7" fill="#000"/>
<rect x="892.6" y="902.8" width="4.4" height="4.4" rx="1.7" fill="#000"/>
<rect x="892.6" y="916.6" width="4.4" height="4.4" rx="1.7" fill="#000"/>
<rect x="892.6" y="930.4" width="4.4" height="4.4" rx="1.7" fill="#000"/>
<rect x="892.6" y="944.2" width="4.4" height="4.4" rx="1.7" fill="#000"/>
<rect x="892.6" y="958" width="4.4" height="4.4" rx="1.7" fill="#000"/>
<rect x="892.6" y="971.8" width="4.4" height="4.4" rx="1.7" fill="#000"/>
<rect x="892.6" y="985.6" width="4.4" height="4.4" rx="1.7" fill="#000"/>
<rect x="892.6" y="999.4" width="4.4" height="4.4" rx="1.7" fill="#000"/>
<rect x="892.6" y="1013.2" width="4.4" height="4.4" rx="1.7" fill="#000"/>
<rect x="892.6" y="1027" width="4.4" height="4.4" rx="1.7" fill="#000"/>
<rect x="892.6" y="1040.8" width="4.4" height="4.4" rx="1.7" fill="#000"/>
<rect x="892.6" y="1054.6" width="4.4" height="4.4" rx="1.7" fill="#000"/>
<rect x="892.6" y="1068.4" width="4.4" height="4.4" rx="1.7" fill="#000"/>
<rect x="892.6" y="1082.2" width="4.4" height="4.4" rx="1.7" fill="#000"/>
<rect x="892.6" y="1096" width="4.4" height="4.4" rx="1.7" fill="#000"/>
<rect x="892.6" y="1109.8" width="4.4" height="4.4" rx="1.7" fill="#000"/>
<rect x="892.6" y="1123.6" width="4.4" height="4.4" rx="1.7" fill="#000"/>
<rect x="892.6" y="1137.4" width="4.4" height="4.4" rx="1.7" fill="#000"/>
<rect x="892.6" y="1151.2" width="4.4" height="4.4" rx="1.7" fill="#000"/>
<rect x="892.6" y="1165" width="4.4" height="4.4" rx="1.7" fill="#000"/>
<rect x="892.6" y="1178.8" width="4.4" height="4.4" rx="1.7" fill="#000"/>
<rect x="892.6" y="1192.6" width="4.4" height="4.4" rx="1.7" fill="#000"/>
<rect x="892.6" y="1206.4" width="4.4" height="4.4" rx="1.7" fill="#000"/>
<rect x="892.6" y="1220.2" width="4.4" height="4.4" rx="1.7" fill="#000"/>
<rect x="892.6" y="1234" width="4.4" height="4.4" rx="1.7" fill="#000"/>
<rect x="892.6" y="1247.8" width="4.4" height="4.4" rx="1.7" fill="#000"/>
<rect x="892.6" y="1261.6" width="4.4" height="4.4" rx="1.7" fill="#000"/>
<rect x="892.6" y="1275.4" width="4.4" height="4.4" rx="1.7" fill="#000"/>
<rect x="892.6" y="1289.2" width="4.4" height="4.4" rx="1.7" fill="#000"/>
<rect x="892.6" y="1303" width="4.4" height="4.4" rx="1.7" fill="#000"/>
<rect x="892.6" y="1316.8" width="4.4" height="4.4" rx="1.7" fill="#000"/>
<rect x="892.6" y="1330.6" width="4.4" height="4.4" rx="1.7" fill="#000"/>
<rect x="892.6" y="1344.4" width="4.4" height="4.4" rx="1.7" fill="#000"/>
<path d="M555 1353V1269.6H597V1353" fill="#fff" stroke="#000" stroke-width="4.6" stroke-linejoin="miter"/>
<path d="M625.45 1353V1257.9H667.45V1353" fill="#fff" stroke="#000" stroke-width="4.6" stroke-linejoin="miter"/>
<path d="M696.5 1353V1253.4H738.5V1353" fill="#fff" stroke="#000" stroke-width="4.6" stroke-linejoin="miter"/>
<path d="M766.7 1353V1258.1H808.7V1353" fill="#fff" stroke="#000" stroke-width="4.6" stroke-linejoin="miter"/>
<path d="M837.5 1353V1234H879.5V1353" fill="#fff" stroke="#000" stroke-width="4.6" stroke-linejoin="miter"/>
<path d="M908 1353V1005.3H950V1353" fill="#fff" stroke="#000" stroke-width="4.6" stroke-linejoin="miter"/>
<path d="M978.6 1353V1195.3H1020.6V1353" fill="#fff" stroke="#000" stroke-width="4.6" stroke-linejoin="miter"/>
<path d="M1049.25 1353V1215.3H1091.25V1353" fill="#fff" stroke="#000" stroke-width="4.6" stroke-linejoin="miter"/>
<path d="M1119.75 1353V1246.3H1161.75V1353" fill="#fff" stroke="#000" stroke-width="4.6" stroke-linejoin="miter"/>
<path d="M1190.5 1353V1184.9H1232.5V1353" fill="#fff" stroke="#000" stroke-width="4.6" stroke-linejoin="miter"/>
<path d="M515 1353H1261.3" stroke="#000" stroke-width="4.8" fill="none"/>
<rect x="1117.6" y="1242.6" width="18.6" height="7.4" fill="#000"/>
<path d="M646.45 1249.7V1261.5M634.83 1249.7H658.07M634.83 1261.5H658.07" fill="none" stroke="#000" stroke-width="4.4"/>
<path d="M717.5 1237.6V1264.6M705.88 1237.6H729.12M705.88 1264.6H729.12" fill="none" stroke="#000" stroke-width="4.4"/>
<path d="M787.7 1234V1277.7M776.08 1234H799.32M776.08 1277.7H799.32" fill="none" stroke="#000" stroke-width="4.4"/>
<path d="M858.5 1218V1243.6M846.88 1218H870.12M846.88 1243.6H870.12" fill="none" stroke="#000" stroke-width="4.4"/>
<path d="M929 988V1018.1M917.38 988H940.62M917.38 1018.1H940.62" fill="none" stroke="#000" stroke-width="4.4"/>
<path d="M999.6 1184V1202M987.98 1184H1011.22M987.98 1202H1011.22" fill="none" stroke="#000" stroke-width="4.4"/>
<path d="M1070.25 1198.3V1227.6M1058.63 1198.3H1081.87M1058.63 1227.6H1081.87" fill="none" stroke="#000" stroke-width="4.4"/>
<path d="M1140.75 1232.8V1254.8M1129.13 1232.8H1152.37M1129.13 1254.8H1152.37" fill="none" stroke="#000" stroke-width="4.4"/>
<path d="M1211.5 1159.2V1205.6M1199.88 1159.2H1223.12M1199.88 1205.6H1223.12" fill="none" stroke="#000" stroke-width="4.4"/>
<circle cx="576.1" cy="1267.2" r="8.87" fill="#fff" stroke="#000" stroke-width="3.4"/>
<circle cx="639" cy="1249.8" r="9.41" fill="#0a0a0a"/><path d="M630.69 1250.7A8.36 8.36 0 0 0 647.31 1250.7Z" fill="#4b8b1b"/>
<circle cx="646.2" cy="1255.6" r="9.41" fill="#0a0a0a"/><path d="M637.89 1256.5A8.36 8.36 0 0 0 654.51 1256.5Z" fill="#4b8b1b"/>
<circle cx="654.3" cy="1250.1" r="9.41" fill="#0a0a0a"/><path d="M645.99 1251A8.36 8.36 0 0 0 662.61 1251Z" fill="#4b8b1b"/>
<circle cx="632.2" cy="1259.3" r="9.41" fill="#0a0a0a"/><path d="M623.89 1260.2A8.36 8.36 0 0 0 640.51 1260.2Z" fill="#4b8b1b"/>
<circle cx="660.8" cy="1263.3" r="9.41" fill="#0a0a0a"/><path d="M652.49 1264.2A8.36 8.36 0 0 0 669.11 1264.2Z" fill="#4b8b1b"/>
<circle cx="731.7" cy="1234.1" r="9.41" fill="#0a0a0a"/><path d="M731.4 1225.75A8.36 8.36 0 0 0 731.4 1242.45Z" fill="#0b0bd6"/>
<circle cx="702.7" cy="1241.8" r="9.41" fill="#0a0a0a"/><path d="M702.4 1233.45A8.36 8.36 0 0 0 702.4 1250.15Z" fill="#0b0bd6"/>
<circle cx="702.7" cy="1270.1" r="9.41" fill="#0a0a0a"/><path d="M702.4 1261.75A8.36 8.36 0 0 0 702.4 1278.45Z" fill="#0b0bd6"/>
<circle cx="717.3" cy="1249.6" r="9.41" fill="#0a0a0a"/><path d="M717 1241.25A8.36 8.36 0 0 0 717 1257.95Z" fill="#0b0bd6"/>
<circle cx="731.7" cy="1259.1" r="9.41" fill="#0a0a0a"/><path d="M731.4 1250.75A8.36 8.36 0 0 0 731.4 1267.45Z" fill="#0b0bd6"/>
<rect x="764.19" y="1223.99" width="18.62" height="18.62" fill="#0a0604"/><rect x="765.19" y="1224.99" width="16.62" height="8.51" fill="#ee7420"/>
<rect x="792.99" y="1228.99" width="18.62" height="18.62" fill="#0a0604"/><rect x="793.99" y="1229.99" width="16.62" height="8.51" fill="#ee7420"/>
<rect x="778.39" y="1240.49" width="18.62" height="18.62" fill="#0a0604"/><rect x="779.39" y="1241.49" width="16.62" height="8.51" fill="#ee7420"/>
<rect x="771.09" y="1272.49" width="18.62" height="18.62" fill="#0a0604"/><rect x="772.09" y="1273.49" width="16.62" height="8.51" fill="#ee7420"/>
<rect x="785.99" y="1266.49" width="18.62" height="18.62" fill="#0a0604"/><rect x="786.99" y="1267.49" width="16.62" height="8.51" fill="#ee7420"/>
<path d="M872.6 1203.5L863.53 1221.54H881.67Z" fill="#6a0fae"/><path d="M872.6 1203.5V1221.54H881.67Z" fill="#0a0a0a"/><path d="M872.6 1203.5L863.53 1221.54H881.67Z" fill="none" stroke="#0a0a0a" stroke-width="1" stroke-linejoin="miter"/>
<path d="M844.1 1215.5L835.03 1233.54H853.17Z" fill="#6a0fae"/><path d="M844.1 1215.5V1233.54H853.17Z" fill="#0a0a0a"/><path d="M844.1 1215.5L835.03 1233.54H853.17Z" fill="none" stroke="#0a0a0a" stroke-width="1" stroke-linejoin="miter"/>
<path d="M844.1 1236.5L835.03 1254.54H853.17Z" fill="#6a0fae"/><path d="M844.1 1236.5V1254.54H853.17Z" fill="#0a0a0a"/><path d="M844.1 1236.5L835.03 1254.54H853.17Z" fill="none" stroke="#0a0a0a" stroke-width="1" stroke-linejoin="miter"/>
<path d="M872.6 1234L863.53 1252.04H881.67Z" fill="#6a0fae"/><path d="M872.6 1234V1252.04H881.67Z" fill="#0a0a0a"/><path d="M872.6 1234L863.53 1252.04H881.67Z" fill="none" stroke="#0a0a0a" stroke-width="1" stroke-linejoin="miter"/>
<path d="M858.1 1225.5L849.03 1243.54H867.17Z" fill="#6a0fae"/><path d="M858.1 1225.5V1243.54H867.17Z" fill="#0a0a0a"/><path d="M858.1 1225.5L849.03 1243.54H867.17Z" fill="none" stroke="#0a0a0a" stroke-width="1" stroke-linejoin="miter"/>
<circle cx="943.4" cy="984.8" r="9.51" fill="#df0c0c"/>
<circle cx="914.7" cy="993.4" r="9.51" fill="#df0c0c"/>
<circle cx="929.3" cy="1002.1" r="9.51" fill="#df0c0c"/>
<circle cx="943.4" cy="1010.6" r="9.51" fill="#df0c0c"/>
<circle cx="914.7" cy="1023.6" r="9.51" fill="#df0c0c"/>
<circle cx="1014.3" cy="1192.3" r="9.41" fill="#0a0a0a"/><path d="M1005.99 1193.2A8.36 8.36 0 0 0 1022.61 1193.2Z" fill="#7cfb2c"/>
<circle cx="1004" cy="1199.1" r="9.41" fill="#0a0a0a"/><path d="M995.69 1200A8.36 8.36 0 0 0 1012.31 1200Z" fill="#7cfb2c"/>
<circle cx="985.4" cy="1207.3" r="9.41" fill="#0a0a0a"/><path d="M977.09 1208.2A8.36 8.36 0 0 0 993.71 1208.2Z" fill="#7cfb2c"/>
<circle cx="985.4" cy="1188.3" r="9.41" fill="#0a0a0a"/><path d="M977.09 1189.2A8.36 8.36 0 0 0 993.71 1189.2Z" fill="#7cfb2c"/>
<circle cx="994.9" cy="1181.3" r="9.41" fill="#0a0a0a"/><path d="M986.59 1182.2A8.36 8.36 0 0 0 1003.21 1182.2Z" fill="#7cfb2c"/>
<circle cx="1070.3" cy="1197.2" r="9.41" fill="#0a0a0a"/><path d="M1070 1188.85A8.36 8.36 0 0 0 1070 1205.55Z" fill="#5656f2"/>
<circle cx="1084.8" cy="1198.6" r="9.41" fill="#0a0a0a"/><path d="M1084.5 1190.25A8.36 8.36 0 0 0 1084.5 1206.95Z" fill="#5656f2"/>
<circle cx="1084.8" cy="1224.6" r="9.41" fill="#0a0a0a"/><path d="M1084.5 1216.25A8.36 8.36 0 0 0 1084.5 1232.95Z" fill="#5656f2"/>
<circle cx="1070.3" cy="1216.1" r="9.41" fill="#0a0a0a"/><path d="M1070 1207.75A8.36 8.36 0 0 0 1070 1224.45Z" fill="#5656f2"/>
<circle cx="1055.8" cy="1229.1" r="9.41" fill="#0a0a0a"/><path d="M1055.5 1220.75A8.36 8.36 0 0 0 1055.5 1237.45Z" fill="#5656f2"/>
<rect x="1117.29" y="1225.09" width="18.62" height="18.62" fill="#0a0604"/><rect x="1118.29" y="1226.09" width="16.62" height="8.51" fill="#e98180"/>
<rect x="1126.39" y="1223.79" width="18.62" height="18.62" fill="#0a0604"/><rect x="1127.39" y="1224.79" width="16.62" height="8.51" fill="#e98180"/>
<rect x="1136.09" y="1240.89" width="18.62" height="18.62" fill="#0a0604"/><rect x="1137.09" y="1241.89" width="16.62" height="8.51" fill="#e98180"/>
<rect x="1145.99" y="1232.09" width="18.62" height="18.62" fill="#0a0604"/><rect x="1146.99" y="1233.09" width="16.62" height="8.51" fill="#e98180"/>
<rect x="1117.09" y="1249.19" width="18.62" height="18.62" fill="#0a0604"/><rect x="1118.09" y="1250.19" width="16.62" height="8.51" fill="#e98180"/>
<path d="M1196.9 1146.5L1187.83 1164.54H1205.97Z" fill="#a556df"/><path d="M1196.9 1146.5V1164.54H1205.97Z" fill="#0a0a0a"/><path d="M1196.9 1146.5L1187.83 1164.54H1205.97Z" fill="none" stroke="#0a0a0a" stroke-width="1" stroke-linejoin="miter"/>
<path d="M1225.3 1155.5L1216.23 1173.54H1234.37Z" fill="#a556df"/><path d="M1225.3 1155.5V1173.54H1234.37Z" fill="#0a0a0a"/><path d="M1225.3 1155.5L1216.23 1173.54H1234.37Z" fill="none" stroke="#0a0a0a" stroke-width="1" stroke-linejoin="miter"/>
<path d="M1196.9 1172.9L1187.83 1190.94H1205.97Z" fill="#a556df"/><path d="M1196.9 1172.9V1190.94H1205.97Z" fill="#0a0a0a"/><path d="M1196.9 1172.9L1187.83 1190.94H1205.97Z" fill="none" stroke="#0a0a0a" stroke-width="1" stroke-linejoin="miter"/>
<path d="M1225.3 1190.1L1216.23 1208.14H1234.37Z" fill="#a556df"/><path d="M1225.3 1190.1V1208.14H1234.37Z" fill="#0a0a0a"/><path d="M1225.3 1190.1L1216.23 1208.14H1234.37Z" fill="none" stroke="#0a0a0a" stroke-width="1" stroke-linejoin="miter"/>
<path d="M1196.9 1202.6L1187.83 1220.64H1205.97Z" fill="#a556df"/><path d="M1196.9 1202.6V1220.64H1205.97Z" fill="#0a0a0a"/><path d="M1196.9 1202.6L1187.83 1220.64H1205.97Z" fill="none" stroke="#0a0a0a" stroke-width="1" stroke-linejoin="miter"/>
<text x="928.3" y="947.5" font-size="25.5" font-weight="bold" text-anchor="middle" >a</text>
<text x="999.5" y="1147" font-size="25.5" font-weight="bold" text-anchor="middle" >b</text>
<text x="1070" y="1158" font-size="25.5" font-weight="bold" text-anchor="middle" >b</text>
<text x="1140.5" y="1199" font-size="25.5" font-weight="bold" text-anchor="middle" >b</text>
<text x="611" y="886.2" font-size="25" font-weight="bold" text-anchor="start" >Social interaction</text>
<text x="978.5" y="886.2" font-size="25" font-weight="bold" text-anchor="start" >Social isolation</text>
<text x="485.8" y="881" font-size="67" font-weight="bold" text-anchor="start" >C</text>
<text transform="translate(446.8 1140.4) rotate(-90)" font-size="30" font-weight="normal" text-anchor="middle" textLength="350" lengthAdjust="spacingAndGlyphs" stroke="#000" stroke-width="1.3">NF-kB mRNA expression</text>
<text transform="translate(482.3 1139.7) rotate(-90)" font-size="30" font-weight="normal" text-anchor="middle" textLength="189" lengthAdjust="spacingAndGlyphs" stroke="#000" stroke-width="1.3">(Fold change)</text>
</g>
</svg></body></html>
